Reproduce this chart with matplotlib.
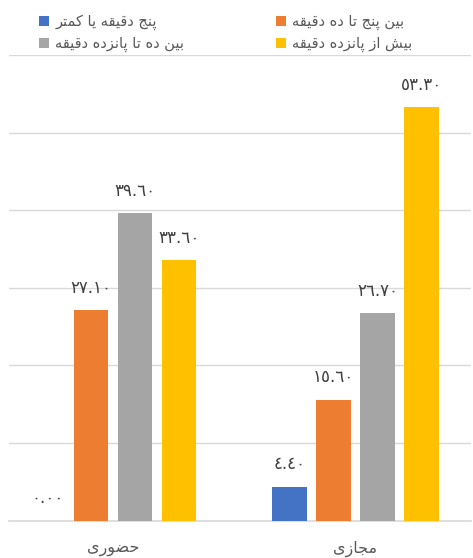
import matplotlib
matplotlib.use("Agg")
import matplotlib.pyplot as plt
import numpy as np

# datos del grafico
categorias = ["حضوری", "مجازی"]
series = ["پنج دقیقه یا کمتر", "بین پنج تا ده دقیقه",
          "بین ده تا پانزده دقیقه", "بیش از پانزده دقیقه"]
valores = [
    [0.00, 4.40],
    [27.10, 15.60],
    [39.60, 26.70],
    [33.60, 53.30],
]
colores = ["#4472C4", "#ED7D31", "#A5A5A5", "#FFC000"]

# matplotlib no une letras arabes, asi que las unimos a mano
# (aislada, final, inicial, medial)
formas = {
    "ا": ("\uFE8D", "\uFE8E"), "د": ("\uFEA9", "\uFEAA"),
    "ر": ("\uFEAD", "\uFEAE"), "ز": ("\uFEAF", "\uFEB0"),
    "و": ("\uFEED", "\uFEEE"),
    "ب": ("\uFE8F", "\uFE90", "\uFE91", "\uFE92"),
    "پ": ("\uFB56", "\uFB57", "\uFB58", "\uFB59"),
    "ت": ("\uFE95", "\uFE96", "\uFE97", "\uFE98"),
    "ج": ("\uFE9D", "\uFE9E", "\uFE9F", "\uFEA0"),
    "ح": ("\uFEA1", "\uFEA2", "\uFEA3", "\uFEA4"),
    "ش": ("\uFEB5", "\uFEB6", "\uFEB7", "\uFEB8"),
    "ض": ("\uFEBD", "\uFEBE", "\uFEBF", "\uFEC0"),
    "ق": ("\uFED5", "\uFED6", "\uFED7", "\uFED8"),
    "ک": ("\uFB8E", "\uFB8F", "\uFB90", "\uFB91"),
    "م": ("\uFEE1", "\uFEE2", "\uFEE3", "\uFEE4"),
    "ن": ("\uFEE5", "\uFEE6", "\uFEE7", "\uFEE8"),
    "ه": ("\uFEE9", "\uFEEA", "\uFEEB", "\uFEEC"),
    "ی": ("\uFBFC", "\uFBFD", "\uFBFE", "\uFBFF"),
}


def rtl(texto):
    out = []
    for i, c in enumerate(texto):
        if c not in formas:
            out.append(c)
            continue
        prev = texto[i - 1] if i > 0 else ""
        nxt = texto[i + 1] if i + 1 < len(texto) else ""
        une_prev = prev in formas and len(formas[prev]) == 4
        une_next = nxt in formas and len(formas[c]) == 4
        f = formas[c]
        if une_prev and une_next:
            out.append(f[3])
        elif une_prev:
            out.append(f[1])
        elif une_next:
            out.append(f[2])
        else:
            out.append(f[0])
    return "".join(out)[::-1]


def digitos(v):
    return f"{v:.2f}".translate(str.maketrans("0123456789", "٠١٢٣٤٥٦٧٨٩"))


fig = plt.figure(figsize=(4.73, 5.58), dpi=100)
ax = fig.add_axes([9 / 473, 1 - 520.7 / 558, 462 / 473, 465.7 / 558])

x = np.arange(len(categorias))
paso = 0.1814
ancho = 0.142
for i, (nombre, vals) in enumerate(zip(series, valores)):
    pos = x + (i - 1.5) * paso
    ax.bar(pos, vals, ancho, color=colores[i], label=rtl(nombre), zorder=3)
    for p, v in zip(pos, vals):
        ax.annotate(digitos(v), (p, v), xytext=(0, 16), textcoords="offset points",
                    ha="center", va="center", fontsize=12, color="#404040")

ax.set_ylim(0, 60)
ax.set_xlim(-0.4289, 1.476)
ax.set_yticks(np.arange(0, 61, 10))
ax.yaxis.grid(True, color="#D9D9D9", linewidth=1, zorder=0)
ax.axhline(0, color="#D9D9D9", linewidth=1.2, zorder=2, clip_on=False)
ax.tick_params(left=False, bottom=False, labelleft=False)
ax.set_xticks(x)
ax.set_xticklabels([rtl(c) for c in categorias], fontsize=11.5, color="#595959")
ax.tick_params(axis="x", pad=11)
for s in ax.spines.values():
    s.set_visible(False)

# leyenda en orden por filas
h, l = ax.get_legend_handles_labels()
orden = [0, 2, 1, 3]
fig.legend([h[k] for k in orden], [l[k] for k in orden], ncol=2,
           loc="upper left", bbox_to_anchor=(26 / 473, 1 - 1 / 558),
           frameon=False, fontsize=10.5, labelcolor="#595959",
           handlelength=0.7, handleheight=0.7, handletextpad=0.4,
           columnspacing=6.3, labelspacing=0.4)

plt.savefig("out.png", dpi=100)
